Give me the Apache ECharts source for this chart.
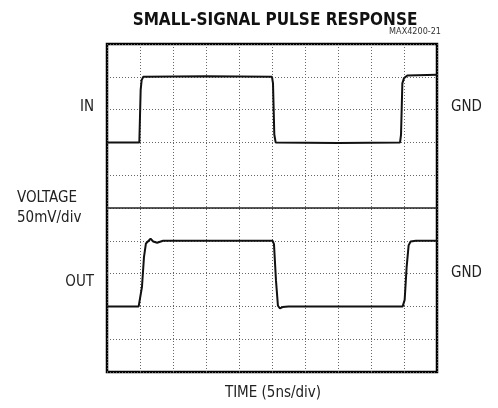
<!DOCTYPE html>
<html>
<head>
<meta charset="utf-8">
<script src="https://cdn.jsdelivr.net/npm/echarts@6/dist/echarts.min.js"></script>
<style>
  html, body { margin: 0; padding: 0; background: #fff; }
  #main { width: 498px; height: 408px; }
</style>
</head>
<body>
<div id="main"></div>
<script>
// time in ns (5ns/div), voltage in mV (50mV/div), screen 0..500 mV
var inTime  = [0, 4.9, 5.0, 5.1, 5.25, 5.5, 15, 25.0, 25.15, 25.35, 25.55, 35, 44.4, 44.55, 44.75, 45.0, 45.5, 50];
var inVolt  = [350, 350, 352, 430, 445, 450, 451, 450, 440, 362, 350, 349, 350, 362, 440, 448, 452, 453];

var outTime = [0, 4.8, 5.0, 5.3, 5.6, 5.9, 6.2, 6.6, 7.0, 7.6, 8.5, 25.1, 25.3, 25.6, 25.9, 26.2, 26.6, 27.5, 44.8, 45.1, 45.4, 45.7, 46.0, 46.3, 46.8, 50];
var outVolt = [100, 100, 103, 130, 175, 196, 199, 203, 199, 197, 200, 200, 195, 140, 101, 97, 99, 100, 100, 110, 160, 193, 199, 202, 200, 200];

var centerLevel = 250;

function zip(a, b) { return a.map(function (v, i) { return [v, b[i]]; }); }

var chart = echarts.init(document.getElementById('main'));
var narrow = "'Liberation Sans Narrow', 'DejaVu Sans Condensed', Roboto, sans-serif";
chart.setOption({
  animation: false,
  backgroundColor: '#fff',
  title: {
    text: 'SMALL-SIGNAL PULSE RESPONSE',
    left: 270, top: 7, textAlign: 'center',
    textStyle: { fontFamily: narrow, fontWeight: 'bold', fontSize: 17, color: '#111' }
  },
  grid: { left: 107, right: 61, top: 44, bottom: 36, show: true, borderColor: '#000', borderWidth: 2.5, backgroundColor: '#fff' },
  xAxis: {
    type: 'value', min: 0, max: 50, interval: 5,
    axisLine: { show: false }, axisTick: { show: false }, axisLabel: { show: false },
    splitLine: { lineStyle: { type: [1, 2], color: '#666', width: 1 } }
  },
  yAxis: {
    type: 'value', min: 0, max: 500, interval: 50,
    axisLine: { show: false }, axisTick: { show: false }, axisLabel: { show: false },
    splitLine: { lineStyle: { type: [1, 2], color: '#666', width: 1 } }
  },
  series: [
    {
      type: 'line', data: zip(inTime, inVolt), symbol: 'none',
      lineStyle: { color: '#111', width: 2 },
      markLine: {
        silent: true, symbol: 'none', label: { show: false },
        lineStyle: { type: 'solid', color: '#222', width: 1.5 },
        data: [{ yAxis: centerLevel }]
      }
    },
    {
      type: 'line', data: zip(outTime, outVolt), symbol: 'none',
      lineStyle: { color: '#111', width: 2 }
    }
  ],
  graphic: [
    { type: 'text', x: 441, y: 32, style: { text: 'MAX4200-21', align: 'right', verticalAlign: 'middle', font: '9px ' + narrow, fill: '#333' } },
    { type: 'text', x: 94, y: 107, style: { text: 'IN', align: 'right', verticalAlign: 'middle', font: '15px ' + narrow, fill: '#222' } },
    { type: 'text', x: 17, y: 198, style: { text: 'VOLTAGE', align: 'left', verticalAlign: 'middle', font: '15px ' + narrow, fill: '#222' } },
    { type: 'text', x: 17, y: 218, style: { text: '50mV/div', align: 'left', verticalAlign: 'middle', font: '15px ' + narrow, fill: '#222' } },
    { type: 'text', x: 94, y: 282, style: { text: 'OUT', align: 'right', verticalAlign: 'middle', font: '15px ' + narrow, fill: '#222' } },
    { type: 'text', x: 451, y: 107, style: { text: 'GND', align: 'left', verticalAlign: 'middle', font: '15px ' + narrow, fill: '#222' } },
    { type: 'text', x: 451, y: 273, style: { text: 'GND', align: 'left', verticalAlign: 'middle', font: '15px ' + narrow, fill: '#222' } },
    { type: 'text', x: 273, y: 393, style: { text: 'TIME (5ns/div)', align: 'center', verticalAlign: 'middle', font: '15px ' + narrow, fill: '#222' } }
  ]
});
</script>
</body>
</html>
